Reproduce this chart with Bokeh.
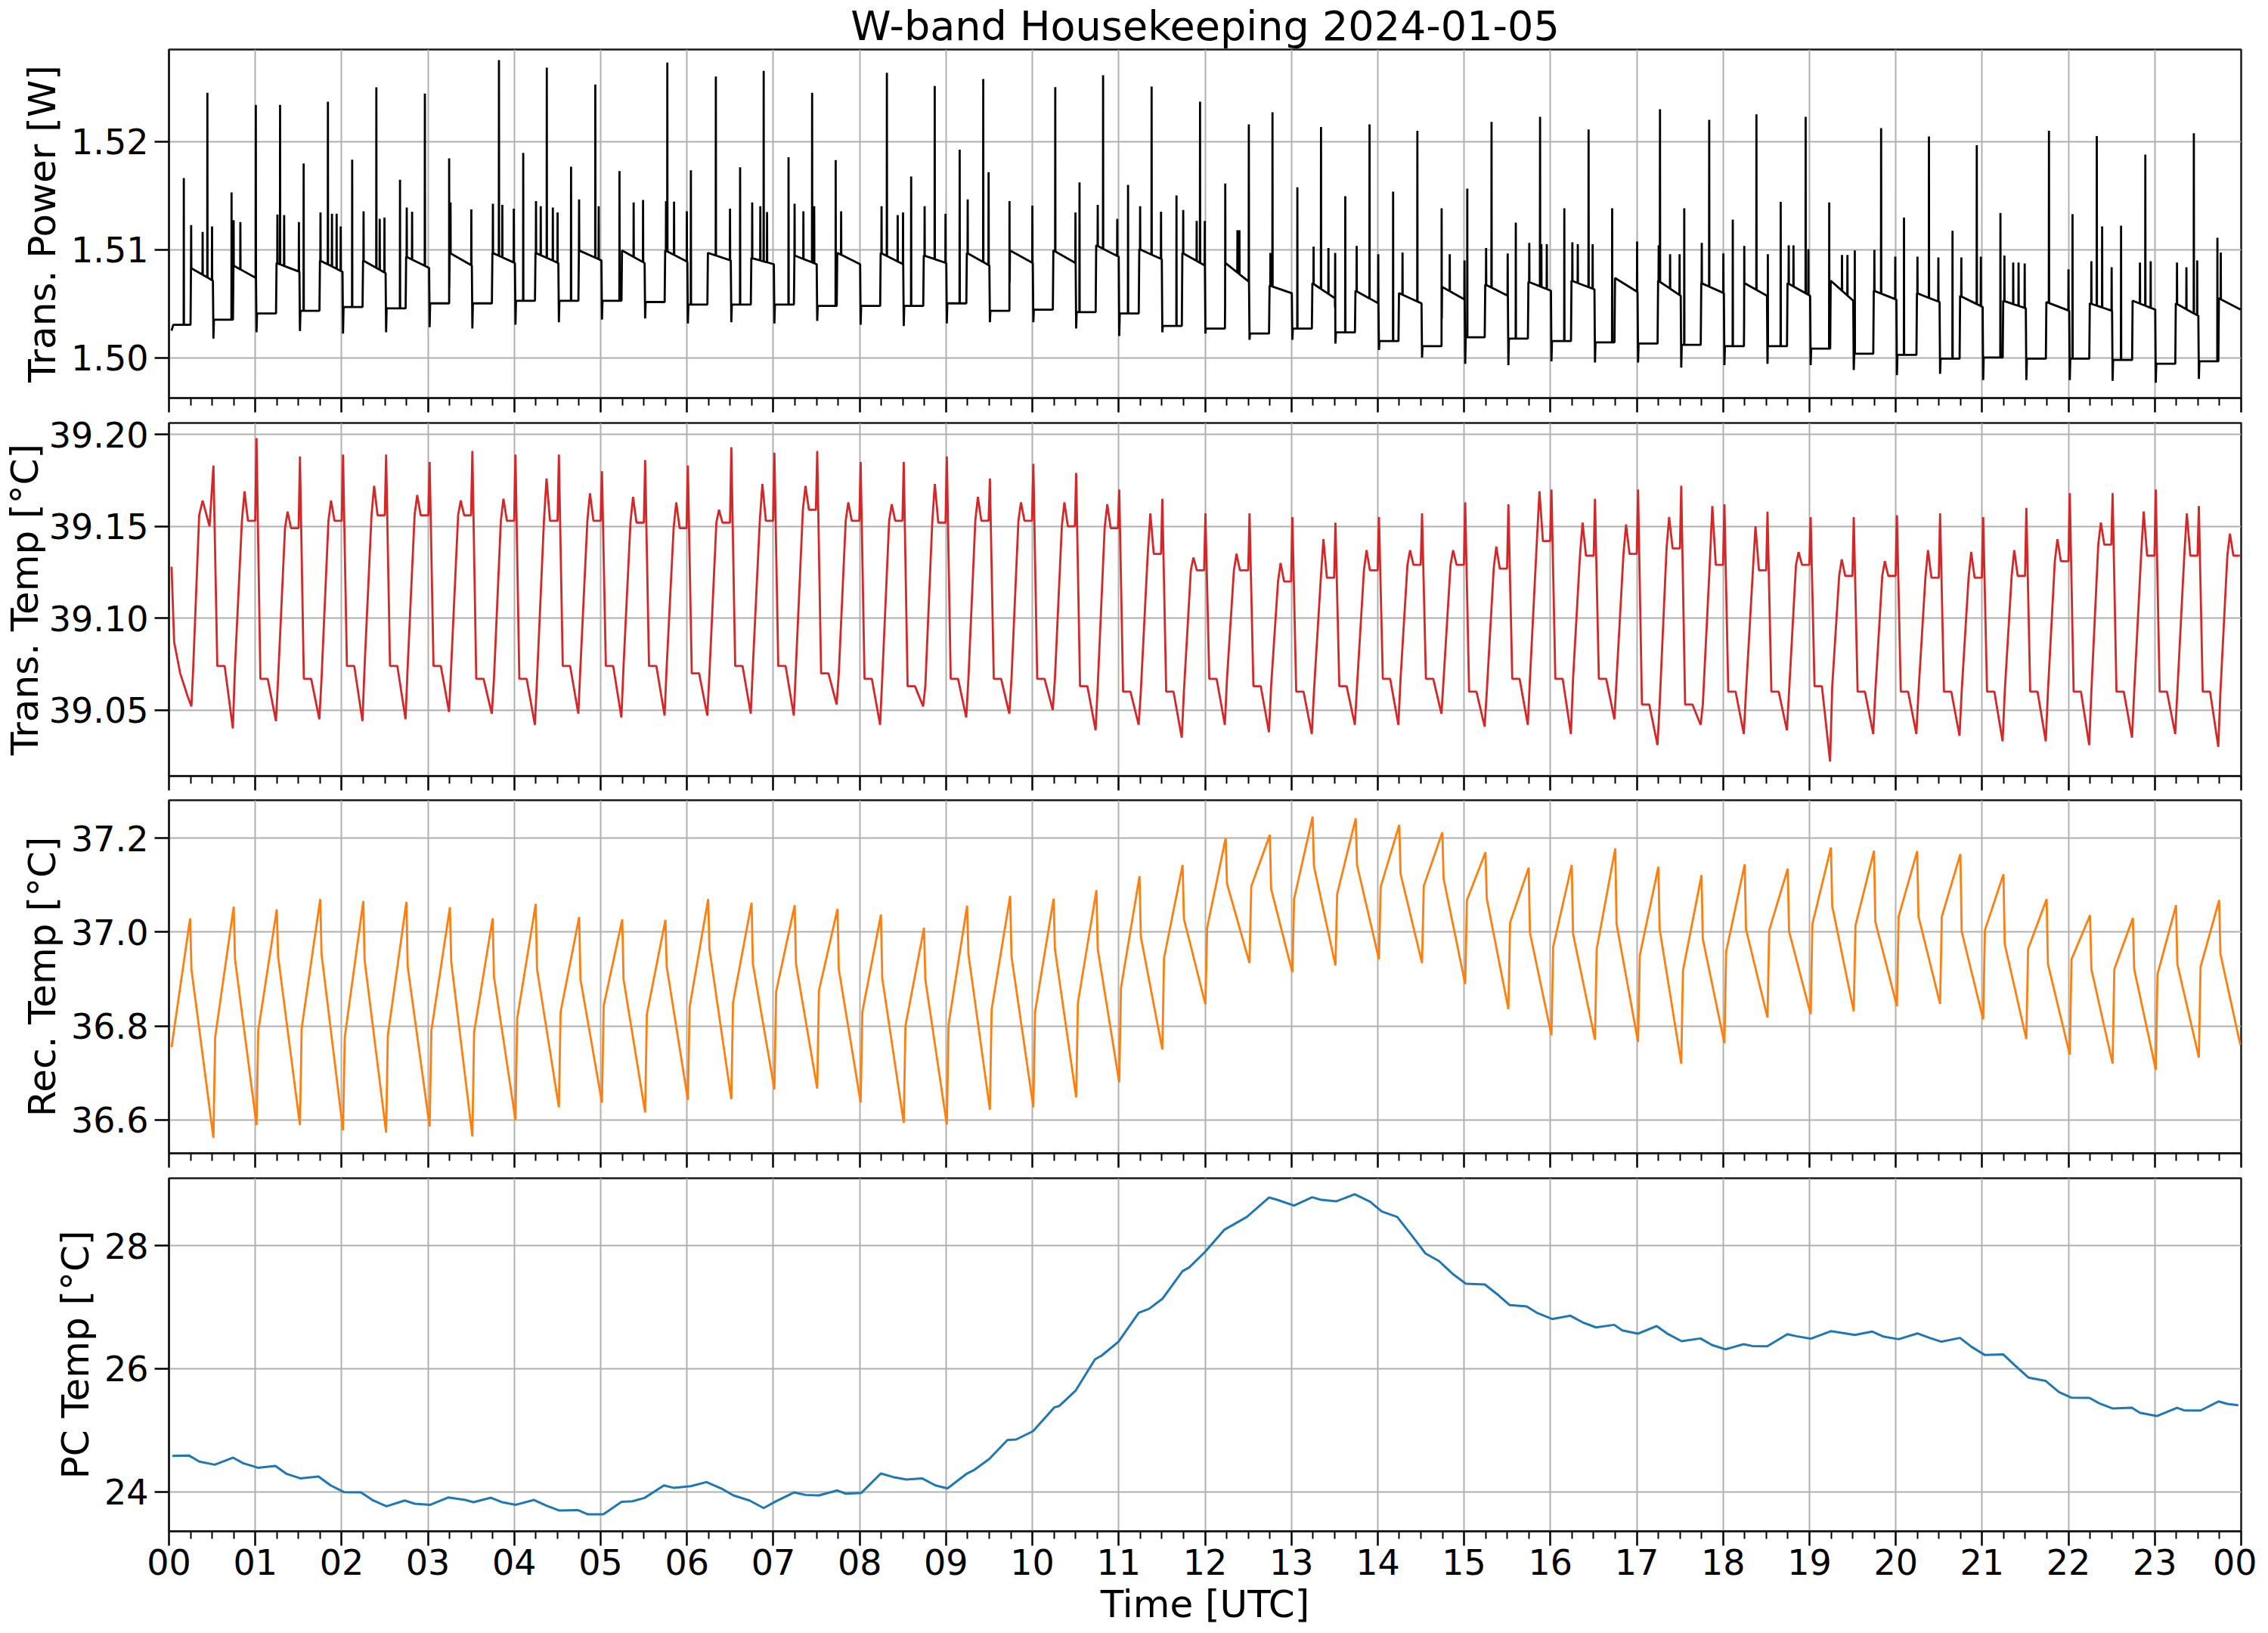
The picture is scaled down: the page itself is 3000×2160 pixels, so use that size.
import numpy as np
from bokeh.plotting import figure
from bokeh.layouts import column
from bokeh.models import FixedTicker, Range1d, PrintfTickFormatter
from bokeh.embed import file_html
from bokeh.resources import INLINE

FONT = "DejaVu Sans"

# ---------------- x axis (hours of day, UTC) ----------------
hour_ticks = list(range(25))
hour_labels = ["00", "01", "02", "03", "04", "05", "06", "07", "08", "09", "10", "11",
               "12", "13", "14", "15", "16", "17", "18", "19", "20", "21", "22", "23", "00"]
quarter_ticks = [h + q / 4.0 for h in range(24) for q in (1, 2, 3)]

# cycle boundaries (hours) (~30 min cycles)
cycle_t = [0.515, 1.014, 1.517, 2.016, 2.515, 3.019, 3.514, 4.013, 4.516, 5.015, 5.515, 6.010,
           6.513, 7.012, 7.508, 8.011, 8.510, 9.009, 9.508, 10.011, 10.507, 11.006, 11.505, 12.004,
           12.515, 13.011, 13.510, 14.014, 14.513, 15.013, 15.513, 16.012, 16.516, 17.015, 17.515,
           18.015, 18.514, 19.014, 19.513, 20.013, 20.513, 21.012, 21.512, 22.015, 22.511, 23.011, 23.510]

# ---------------- Trans. Power [W] ----------------
pw_start_t = [0.03, 0.05, 0.25, 0.255, 0.509]
pw_start_v = [1.5025, 1.50305, 1.50305, 1.5083, 1.50713]
pw_dip = [1.50177, 1.50235, 1.50247, 1.50224, 1.50235, 1.50282, 1.50270, 1.50305, 1.50329, 1.50352,
          1.50364, 1.50317, 1.50329, 1.50317, 1.50340, 1.50305, 1.50294, 1.50317, 1.50329, 1.50329,
          1.50270, 1.50200, 1.50235, 1.50224,
          1.50166, 1.50166, 1.50131, 1.50072, 1.50002, 1.49944, 1.49932, 1.49967, 1.49956, 1.49956,
          1.49909, 1.49932, 1.49944, 1.49932, 1.49886, 1.49839, 1.49851, 1.49793, 1.49793, 1.49793,
          1.49786, 1.49769, 1.49804]
pw_low = [1.50352, 1.50410, 1.50434, 1.50469, 1.50457, 1.50503, 1.50503, 1.50527, 1.50527, 1.50527,
          1.50515, 1.50492, 1.50492, 1.50492, 1.50480, 1.50480, 1.50480, 1.50503, 1.50434, 1.50445,
          1.50422, 1.50410, 1.50294, 1.50270,
          1.50224, 1.50270, 1.50235, 1.50154, 1.50107, 1.50189, 1.50177, 1.50154, 1.50142, 1.50131,
          1.50119, 1.50107, 1.50107, 1.50084, 1.50037, 1.50026, 1.49991, 1.50002, 1.49991, 1.49991,
          1.49979, 1.49944, 1.49967]
pw_high_start = [1.50853, 1.50876, 1.50900, 1.50900, 1.50935, 1.50970, 1.50970, 1.50970, 1.50993, 1.50993,
                 1.50993, 1.50970, 1.50923, 1.50946, 1.50970, 1.50970, 1.50946, 1.50970, 1.50993, 1.50993,
                 1.51040, 1.51005, 1.50970, 1.50876,
                 1.50667, 1.50690, 1.50620, 1.50597, 1.50655, 1.50678, 1.50702, 1.50713, 1.50737, 1.50713,
                 1.50690, 1.50690, 1.50690, 1.50713, 1.50620, 1.50597, 1.50573, 1.50527, 1.50515, 1.50503,
                 1.50527, 1.50503, 1.50550]
pw_high_end = [1.50737, 1.50795, 1.50795, 1.50783, 1.50830, 1.50853, 1.50876, 1.50876, 1.50900, 1.50876,
               1.50888, 1.50900, 1.50865, 1.50865, 1.50865, 1.50865, 1.50876, 1.50853, 1.50876, 1.50876,
               1.50935, 1.50911, 1.50853, 1.50702,
               1.50597, 1.50550, 1.50503, 1.50503, 1.50538, 1.50573, 1.50620, 1.50632, 1.50608, 1.50573,
               1.50597, 1.50573, 1.50573, 1.50527, 1.50538, 1.50515, 1.50469, 1.50457, 1.50434, 1.50434,
               1.50445, 1.50387, 1.50445]
pw_spike_t = [0.445, 1.006, 1.287, 1.841, 2.402, 2.964, 3.822, 4.376, 4.938, 5.772, 6.334, 6.888,
              7.449, 8.315, 8.869, 9.431, 10.265, 10.819, 11.381, 11.942,
              12.507, 12.781, 13.343, 13.905, 14.459, 15.318, 15.880, 16.442, 17.269, 17.839, 18.386,
              18.956, 19.830, 20.384, 20.938, 21.774, 22.328, 22.890, 23.452,
              0.172, 0.257, 0.390, 0.499, 0.725, 0.749, 0.827, 1.256, 1.334, 1.505, 1.560, 1.755,
              1.888, 1.942, 1.989, 2.122, 2.254, 2.441, 2.496, 2.676, 2.754, 2.816, 3.245, 3.261,
              3.502, 3.752, 3.861, 3.994, 4.103, 4.251, 4.306, 4.446, 4.501, 4.657, 4.750, 4.977,
              5.218, 5.382, 5.491, 5.757, 5.850, 5.998, 6.045, 6.498, 6.615, 6.755, 6.849, 6.927,
              7.176, 7.246, 7.348, 7.473, 7.722, 7.785, 8.253, 8.440, 8.502, 8.596, 8.752, 8.994,
              9.158, 9.251, 9.493, 9.735, 10.000, 10.499, 10.546, 10.757, 10.983, 11.108, 11.248,
              11.490, 11.669, 11.747, 11.903, 11.997,
              12.234, 12.375, 12.398, 12.757, 13.069, 13.257, 13.429, 13.507, 13.624, 13.756, 14.006,
              14.178, 14.287, 14.740, 14.834, 15.005, 15.037, 15.255, 15.505, 15.599, 15.755, 15.895,
              15.958, 16.161, 16.254, 16.317, 16.489, 16.715, 17.004, 17.254, 17.386, 17.496, 17.550,
              17.753, 18.003, 18.112, 18.245, 18.518, 18.667, 18.760, 18.815, 18.987, 19.229, 19.377,
              19.440, 19.525, 19.752, 19.994, 20.095, 20.251, 20.493, 20.657, 20.759, 20.985, 21.212,
              21.258, 21.360, 21.422, 21.493, 22.000, 22.047, 22.265, 22.390, 22.500, 22.609, 22.828,
              22.952, 23.257, 23.366, 23.491, 23.725, 23.764]
pw_spike_v = [1.52450, 1.52338, 1.52338, 1.52368, 1.52501, 1.52443, 1.52753, 1.52683, 1.52527, 1.52730,
              1.52601, 1.52653, 1.52450, 1.52636, 1.52513, 1.52578, 1.52503, 1.52613, 1.52508, 1.52368,
              1.52159, 1.52270, 1.52135, 1.52159, 1.52100, 1.52182, 1.52228, 1.52112, 1.52298, 1.52200,
              1.52252, 1.52228, 1.52124, 1.52047, 1.51967, 1.52100, 1.52051, 1.51879, 1.52077,
              1.51662, 1.51226, 1.51163, 1.51214, 1.51529, 1.51273, 1.51254, 1.51324, 1.51319, 1.51254,
              1.51797, 1.51343, 1.51331, 1.51331, 1.51214, 1.51832, 1.51354, 1.51284, 1.51296, 1.51646,
              1.51389, 1.51350, 1.51844, 1.51436, 1.51371, 1.51424, 1.51413, 1.51378, 1.51895, 1.51448,
              1.51401, 1.51389, 1.51343, 1.51767, 1.51464, 1.51401, 1.51727, 1.51436, 1.51459, 1.51448,
              1.51443, 1.51354, 1.51734, 1.51378, 1.51762, 1.51436, 1.51401, 1.51347, 1.51855, 1.51424,
              1.51354, 1.51401, 1.51828, 1.51354, 1.51401, 1.51319, 1.51343, 1.51676, 1.51401, 1.51331,
              1.51925, 1.51464, 1.51716, 1.51448, 1.51406, 1.51343, 1.51622, 1.51413, 1.51284, 1.51599,
              1.51401, 1.51350, 1.51501, 1.51366, 1.51266, 1.51266,
              1.51611, 1.51179, 1.51179, 1.50970, 1.51576, 1.51028, 1.51016, 1.50970, 1.51494, 1.51035,
              1.50958, 1.51536, 1.50974, 1.51382, 1.50958, 1.50900, 1.51564, 1.51016, 1.50965, 1.51249,
              1.51063, 1.51051, 1.51051, 1.51382, 1.51068, 1.51051, 1.51051, 1.51382, 1.51075, 1.51040,
              1.50958, 1.50958, 1.51382, 1.51063, 1.50965, 1.51277, 1.51035, 1.50958, 1.51441, 1.51040,
              1.51040, 1.51005, 1.51436, 1.50951, 1.50951, 1.50993, 1.50998, 1.50935, 1.51296, 1.50935,
              1.50928, 1.51175, 1.50928, 1.50935, 1.51338, 1.50946, 1.50881, 1.50881, 1.50872, 1.50818,
              1.51329, 1.50893, 1.51214, 1.50837, 1.51221, 1.50881, 1.50893, 1.50881, 1.50837, 1.50900,
              1.51110, 1.50974]

# ---------------- Trans. Temp [°C] ----------------
tt_start_t = [0.03, 0.06, 0.13, 0.22, 0.26, 0.28, 0.35, 0.39, 0.47]
tt_start_v = [39.128, 39.087, 39.070, 39.057, 39.052, 39.072, 39.156, 39.164, 39.150]
tt_spike = [39.183, 39.198, 39.188, 39.189, 39.189, 39.185, 39.191, 39.189, 39.189, 39.180, 39.186, 39.183,
            39.193, 39.190, 39.191, 39.185, 39.185, 39.188, 39.176, 39.184, 39.179, 39.170, 39.165, 39.157,
            39.157, 39.155, 39.152, 39.155, 39.157, 39.163, 39.162, 39.170, 39.165, 39.170, 39.172, 39.162,
            39.158, 39.155, 39.155, 39.156, 39.157, 39.155, 39.160, 39.168, 39.168, 39.170, 39.161]
tt_low = [39.074, 39.067, 39.067, 39.074, 39.074, 39.074, 39.067, 39.067, 39.074, 39.074, 39.074, 39.070,
          39.074, 39.074, 39.070, 39.067, 39.063, 39.067, 39.067, 39.067, 39.063, 39.060, 39.060,
          39.067, 39.063, 39.060, 39.063, 39.067, 39.067, 39.060, 39.067, 39.067, 39.067, 39.053, 39.053,
          39.060, 39.060, 39.063, 39.060, 39.060, 39.060, 39.060, 39.060, 39.060, 39.060, 39.060, 39.060]
tt_dip = [39.040, 39.044, 39.045, 39.044, 39.045, 39.049, 39.048, 39.042, 39.048, 39.046, 39.047, 39.047,
          39.048, 39.047, 39.053, 39.042, 39.052, 39.046, 39.048, 39.050, 39.039, 39.042, 39.035,
          39.042, 39.038, 39.037, 39.042, 39.042, 39.048, 39.041, 39.042, 39.037, 39.045, 39.031, 39.042,
          39.037, 39.039, 39.022, 39.037, 39.037, 39.036, 39.033, 39.033, 39.031, 39.035, 39.037, 39.030]
tt_plat = [39.153, 39.149, 39.153, 39.156, 39.156, 39.156, 39.153, 39.153, 39.153, 39.152, 39.149, 39.152,
           39.153, 39.159, 39.153, 39.153, 39.152, 39.153, 39.153, 39.150, 39.149, 39.135, 39.126,
           39.126, 39.120, 39.122, 39.126, 39.129, 39.129, 39.127, 39.142, 39.134, 39.135, 39.138, 39.129,
           39.126, 39.129, 39.123, 39.123, 39.122, 39.122, 39.123, 39.131, 39.140, 39.134, 39.134, 39.134]
tt_bump = [39.169, 39.158, 39.164, 39.172, 39.167, 39.164, 39.165, 39.176, 39.168, 39.166, 39.163, 39.159,
           39.173, 39.172, 39.163, 39.162, 39.173, 39.166, 39.163, 39.163, 39.162, 39.157, 39.133,
           39.135, 39.130, 39.143, 39.137, 39.137, 39.137, 39.139, 39.169, 39.152, 39.151, 39.155, 39.161,
           39.150, 39.136, 39.132, 39.131, 39.137, 39.136, 39.137, 39.143, 39.152, 39.158, 39.157, 39.146]

# ---------------- Rec. Temp [°C] ----------------
rec_start_v = 36.755
rec_end_v = 36.760
rec_trough = [36.562, 36.589, 36.589, 36.578, 36.573, 36.586, 36.565, 36.600, 36.627, 36.637, 36.616, 36.643,
              36.644, 36.665, 36.667, 36.637, 36.594, 36.590, 36.622, 36.627, 36.648, 36.680, 36.750, 36.846,
              36.934, 36.914, 36.929, 36.942, 36.934, 36.889, 36.836, 36.780, 36.771, 36.766, 36.720, 36.763,
              36.818, 36.825, 36.831, 36.842, 36.847, 36.814, 36.772, 36.739, 36.720, 36.707, 36.733]
rec_jump = [36.776, 36.790, 36.795, 36.776, 36.780, 36.790, 36.787, 36.816, 36.830, 36.843, 36.825, 36.840,
            36.850, 36.873, 36.875, 36.830, 36.800, 36.803, 36.835, 36.830, 36.849, 36.881, 36.945, 37.009,
            37.097, 37.070, 37.081, 37.096, 37.098, 37.068, 37.020, 36.969, 36.964, 36.950, 36.918, 36.958,
            37.004, 37.017, 37.014, 37.033, 37.033, 37.004, 36.964, 36.942, 36.921, 36.910, 36.926]
rec_peak = [37.029, 37.054, 37.048, 37.070, 37.066, 37.064, 37.053, 37.029, 37.060, 37.032, 37.027, 37.026,
            37.070, 37.062, 37.057, 37.049, 37.037, 37.009, 37.056, 37.077, 37.071, 37.089, 37.119, 37.143,
            37.200, 37.207, 37.246, 37.242, 37.228, 37.212, 37.170, 37.137, 37.143, 37.178, 37.139, 37.121,
            37.144, 37.135, 37.180, 37.173, 37.172, 37.166, 37.123, 37.070, 37.036, 37.030, 37.057, 37.068]
rec_post = [36.921, 36.942, 36.948, 36.953, 36.940, 36.926, 36.937, 36.905, 36.921, 36.899, 36.899, 36.926,
            36.964, 36.932, 36.932, 36.921, 36.902, 36.899, 36.953, 36.948, 36.964, 36.964, 36.990, 37.028,
            37.103, 37.092, 37.140, 37.143, 37.124, 37.113, 37.071, 36.998, 36.996, 37.017, 37.006, 36.985,
            37.006, 37.001, 37.055, 37.022, 37.033, 37.001, 36.974, 36.932, 36.921, 36.921, 36.932, 36.953]

# ---------------- PC Temp [°C] ----------------
pc_t = [0.04, 0.234, 0.351, 0.53, 0.741, 0.858, 1.03, 1.232, 1.365, 1.521,
        1.732, 1.872, 2.028, 2.223, 2.356, 2.52, 2.73, 2.847, 3.027, 3.237,
        3.432, 3.526, 3.729, 3.861, 4.017, 4.228, 4.368, 4.524, 4.735, 4.852,
        5.031, 5.242, 5.367, 5.507, 5.733, 5.85, 6.045, 6.225, 6.412, 6.537,
        6.724, 6.888, 7.02, 7.239, 7.371, 7.527, 7.738, 7.839, 8.019, 8.245,
        8.385, 8.541, 8.721, 8.877, 9.017, 9.243, 9.321, 9.501, 9.711, 9.813,
        10.008, 10.257, 10.312, 10.499, 10.725, 10.803, 10.998, 11.232, 11.349, 11.505,
        11.739, 11.817, 11.997, 12.226, 12.304, 12.484, 12.742, 12.836, 13.03, 13.241,
        13.343, 13.522, 13.733, 13.913, 14.045, 14.225, 14.397, 14.553, 14.709, 14.865,
        15.021, 15.24, 15.396, 15.529, 15.724, 15.841, 16.02, 16.231, 16.372, 16.528,
        16.739, 16.832, 17.012, 17.23, 17.363, 17.519, 17.738, 17.87, 18.027, 18.237,
        18.339, 18.511, 18.745, 18.846, 19.018, 19.252, 19.377, 19.525, 19.728, 19.861,
        20.033, 20.251, 20.392, 20.525, 20.743, 20.876, 21.032, 21.243, 21.383, 21.539,
        21.734, 21.891, 22.031, 22.242, 22.359, 22.515, 22.734, 22.828, 23.023, 23.257,
        23.336, 23.53, 23.74, 23.842, 23.967]
pc_v = [24.583, 24.588, 24.49, 24.44, 24.555, 24.465, 24.391, 24.42, 24.289, 24.219,
        24.248, 24.104, 23.994, 23.99, 23.867, 23.765, 23.859, 23.806, 23.789, 23.908,
        23.867, 23.83, 23.904, 23.83, 23.789, 23.867, 23.777, 23.695, 23.703, 23.634,
        23.634, 23.838, 23.846, 23.9, 24.104, 24.063, 24.092, 24.158, 24.043, 23.941,
        23.859, 23.736, 23.838, 23.99, 23.949, 23.941, 24.022, 23.969, 23.982, 24.297,
        24.24, 24.199, 24.219, 24.104, 24.055, 24.297, 24.35, 24.534, 24.841, 24.85,
        24.985, 25.374, 25.394, 25.64, 26.151, 26.213, 26.438, 26.909, 26.97, 27.134,
        27.584, 27.646, 27.892, 28.26, 28.321, 28.465, 28.78, 28.743, 28.649, 28.784,
        28.743, 28.719, 28.833, 28.71, 28.555, 28.465, 28.158, 27.871, 27.748, 27.543,
        27.38, 27.367, 27.195, 27.032, 27.011, 26.909, 26.807, 26.86, 26.753, 26.671,
        26.712, 26.622, 26.569, 26.692, 26.561, 26.446, 26.491, 26.385, 26.315, 26.397,
        26.368, 26.364, 26.561, 26.528, 26.487, 26.61, 26.581, 26.549, 26.602, 26.52,
        26.479, 26.573, 26.5, 26.438, 26.5, 26.356, 26.221, 26.233, 26.049, 25.853,
        25.803, 25.619, 25.529, 25.525, 25.435, 25.353, 25.365, 25.284, 25.23, 25.365,
        25.324, 25.32, 25.468, 25.427, 25.406]


# ---------------- assemble traces from the read values ----------------
def next_t(k):
    return cycle_t[k + 1] if k + 1 < len(cycle_t) else 24.0


def power_trace():
    t = list(pw_start_t)
    v = list(pw_start_v)
    for k, c in enumerate(cycle_t):
        n = next_t(k)
        t += [c, c + 0.006, c + 0.226, c + 0.232, n - 0.006]
        v += [pw_dip[k], pw_low[k], pw_low[k], pw_high_start[k], pw_high_end[k]]
    t = np.array(t)
    v = np.array(v)
    st = np.array(pw_spike_t)
    sv = np.array(pw_spike_v)
    eps = 0.0018
    bl = np.interp(st - eps, t, v)
    br = np.interp(st + eps, t, v)
    at = np.concatenate([t, st - eps, st, st + eps])
    av = np.concatenate([v, bl, sv, br])
    o = np.argsort(at, kind="stable")
    return at[o], av[o]


def trans_temp_trace():
    t = list(tt_start_t)
    v = list(tt_start_v)
    for k, c in enumerate(cycle_t):
        n = next_t(k)
        t += [c, c + 0.045, c + 0.13, c + 0.225, c + 0.25, c + 0.33, c + 0.36, c + 0.40, n - 0.015]
        v += [tt_spike[k], tt_low[k], tt_low[k], tt_dip[k], tt_low[k],
              tt_plat[k], tt_bump[k], tt_plat[k], tt_plat[k]]
    return t, v


def rec_temp_trace():
    t = [0.03, cycle_t[0] - 0.27, cycle_t[0] - 0.255]
    v = [rec_start_v, rec_peak[0], rec_post[0]]
    for k, c in enumerate(cycle_t):
        t += [c, c + 0.02, c + 0.235, c + 0.25]
        v += [rec_trough[k], rec_jump[k], rec_peak[k + 1], rec_post[k + 1]]
    t.append(23.99)
    v.append(rec_end_v)
    return t, v


# ---------------- figures ----------------
FW = 2741
FH = 467
LEFT = 214
RIGHT = 30
SPINE = "#1a1a1a"
GRID = "#b0b0b0"


def make_panel(y0, y1, yticks, fmt, ylabel, top, bottom, bottom_axis=False, title=None,
               ylabel_standoff=6, fh=FH):
    p = figure(frame_width=FW, frame_height=fh, x_range=Range1d(0, 24), y_range=Range1d(y0, y1),
               output_backend="svg", toolbar_location=None, title=title,
               min_border_left=LEFT, min_border_right=RIGHT,
               min_border_top=top, min_border_bottom=bottom)
    p.background_fill_color = "white"
    p.border_fill_color = "white"
    p.outline_line_color = SPINE
    p.outline_line_width = 2.5
    p.outline_line_alpha = 1.0

    p.xaxis.ticker = FixedTicker(ticks=hour_ticks, minor_ticks=quarter_ticks)
    p.yaxis.ticker = FixedTicker(ticks=yticks)
    p.yaxis.formatter = PrintfTickFormatter(format=fmt)

    for ax in (p.xaxis[0], p.yaxis[0]):
        ax.axis_line_color = SPINE
        ax.axis_line_width = 2.5
        ax.major_tick_line_color = "black"
        ax.major_tick_line_width = 2.5
        ax.major_tick_out = 19
        ax.major_tick_in = 0
        ax.minor_tick_line_color = "black"
        ax.minor_tick_line_width = 2
        ax.minor_tick_out = 10
        ax.minor_tick_in = 0
        ax.major_label_text_font = FONT
        ax.major_label_text_color = "black"
        ax.axis_label_text_font = FONT
        ax.axis_label_text_font_style = "normal"
        ax.axis_label_text_color = "black"

    p.yaxis.minor_tick_line_color = None
    p.yaxis.major_label_text_font_size = "46px"
    p.yaxis.major_label_standoff = 8
    p.yaxis.axis_label = ylabel
    p.yaxis.axis_label_text_font_size = "50px"
    p.yaxis.axis_label_standoff = ylabel_standoff

    if bottom_axis:
        p.xaxis.major_label_overrides = {h: lab for h, lab in zip(hour_ticks, hour_labels)}
        p.xaxis.major_label_text_font_size = "46px"
        p.xaxis.major_label_standoff = 4
        p.xaxis.axis_label = "Time [UTC]"
        p.xaxis.axis_label_text_font_size = "50px"
        p.xaxis.axis_label_standoff = 7
    else:
        # shared time axis: ticks only, no labels on the upper panels
        p.xaxis.major_label_overrides = {h: "" for h in hour_ticks}
        p.xaxis.major_label_text_font_size = "1px"
        p.xaxis.major_label_text_color = None
        p.xaxis.major_label_standoff = 0

    p.xgrid.grid_line_color = GRID
    p.xgrid.grid_line_width = 2
    p.ygrid.grid_line_color = GRID
    p.ygrid.grid_line_width = 2
    return p


# the title band is a little taller than in the reference, so the first frame is
# shortened at its top (range top moved accordingly) to keep the data in place
p1 = make_panel(1.49627, 1.52851, [1.50, 1.51, 1.52], "%.2f", "Trans. Power [W]", 52, 21,
                title="W-band Housekeeping 2024-01-05", fh=461)
p1.title.align = "center"
p1.title.text_font = FONT
p1.title.text_font_size = "54px"
p1.title.text_font_style = "normal"
p1.title.text_color = "black"
p1.title.standoff = 0
p1.title.offset = 0

p2 = make_panel(39.0141, 39.2062, [39.05, 39.10, 39.15, 39.20], "%.2f", "Trans. Temp [°C]", 12, 21,
                ylabel_standoff=0)
p3 = make_panel(36.529, 37.2805, [36.6, 36.8, 37.0, 37.2], "%.1f", "Rec. Temp [°C]", 11, 21)
p4 = make_panel(23.358, 29.093, [24, 26, 28], "%d", "PC Temp [°C]", 12, 20, bottom_axis=True)

pt, pv = power_trace()
p1.line(pt, pv, line_color="black", line_width=2.8)

tt, tv = trans_temp_trace()
p2.line(tt, tv, line_color="#d62728", line_width=2.8)

rt, rv = rec_temp_trace()
p3.line(rt, rv, line_color="#ff7f0e", line_width=2.8)

p4.line(pc_t, pc_v, line_color="#1f77b4", line_width=3)

layout = column(p1, p2, p3, p4, spacing=0)

open("out.html", "w").write(file_html(layout, INLINE))
